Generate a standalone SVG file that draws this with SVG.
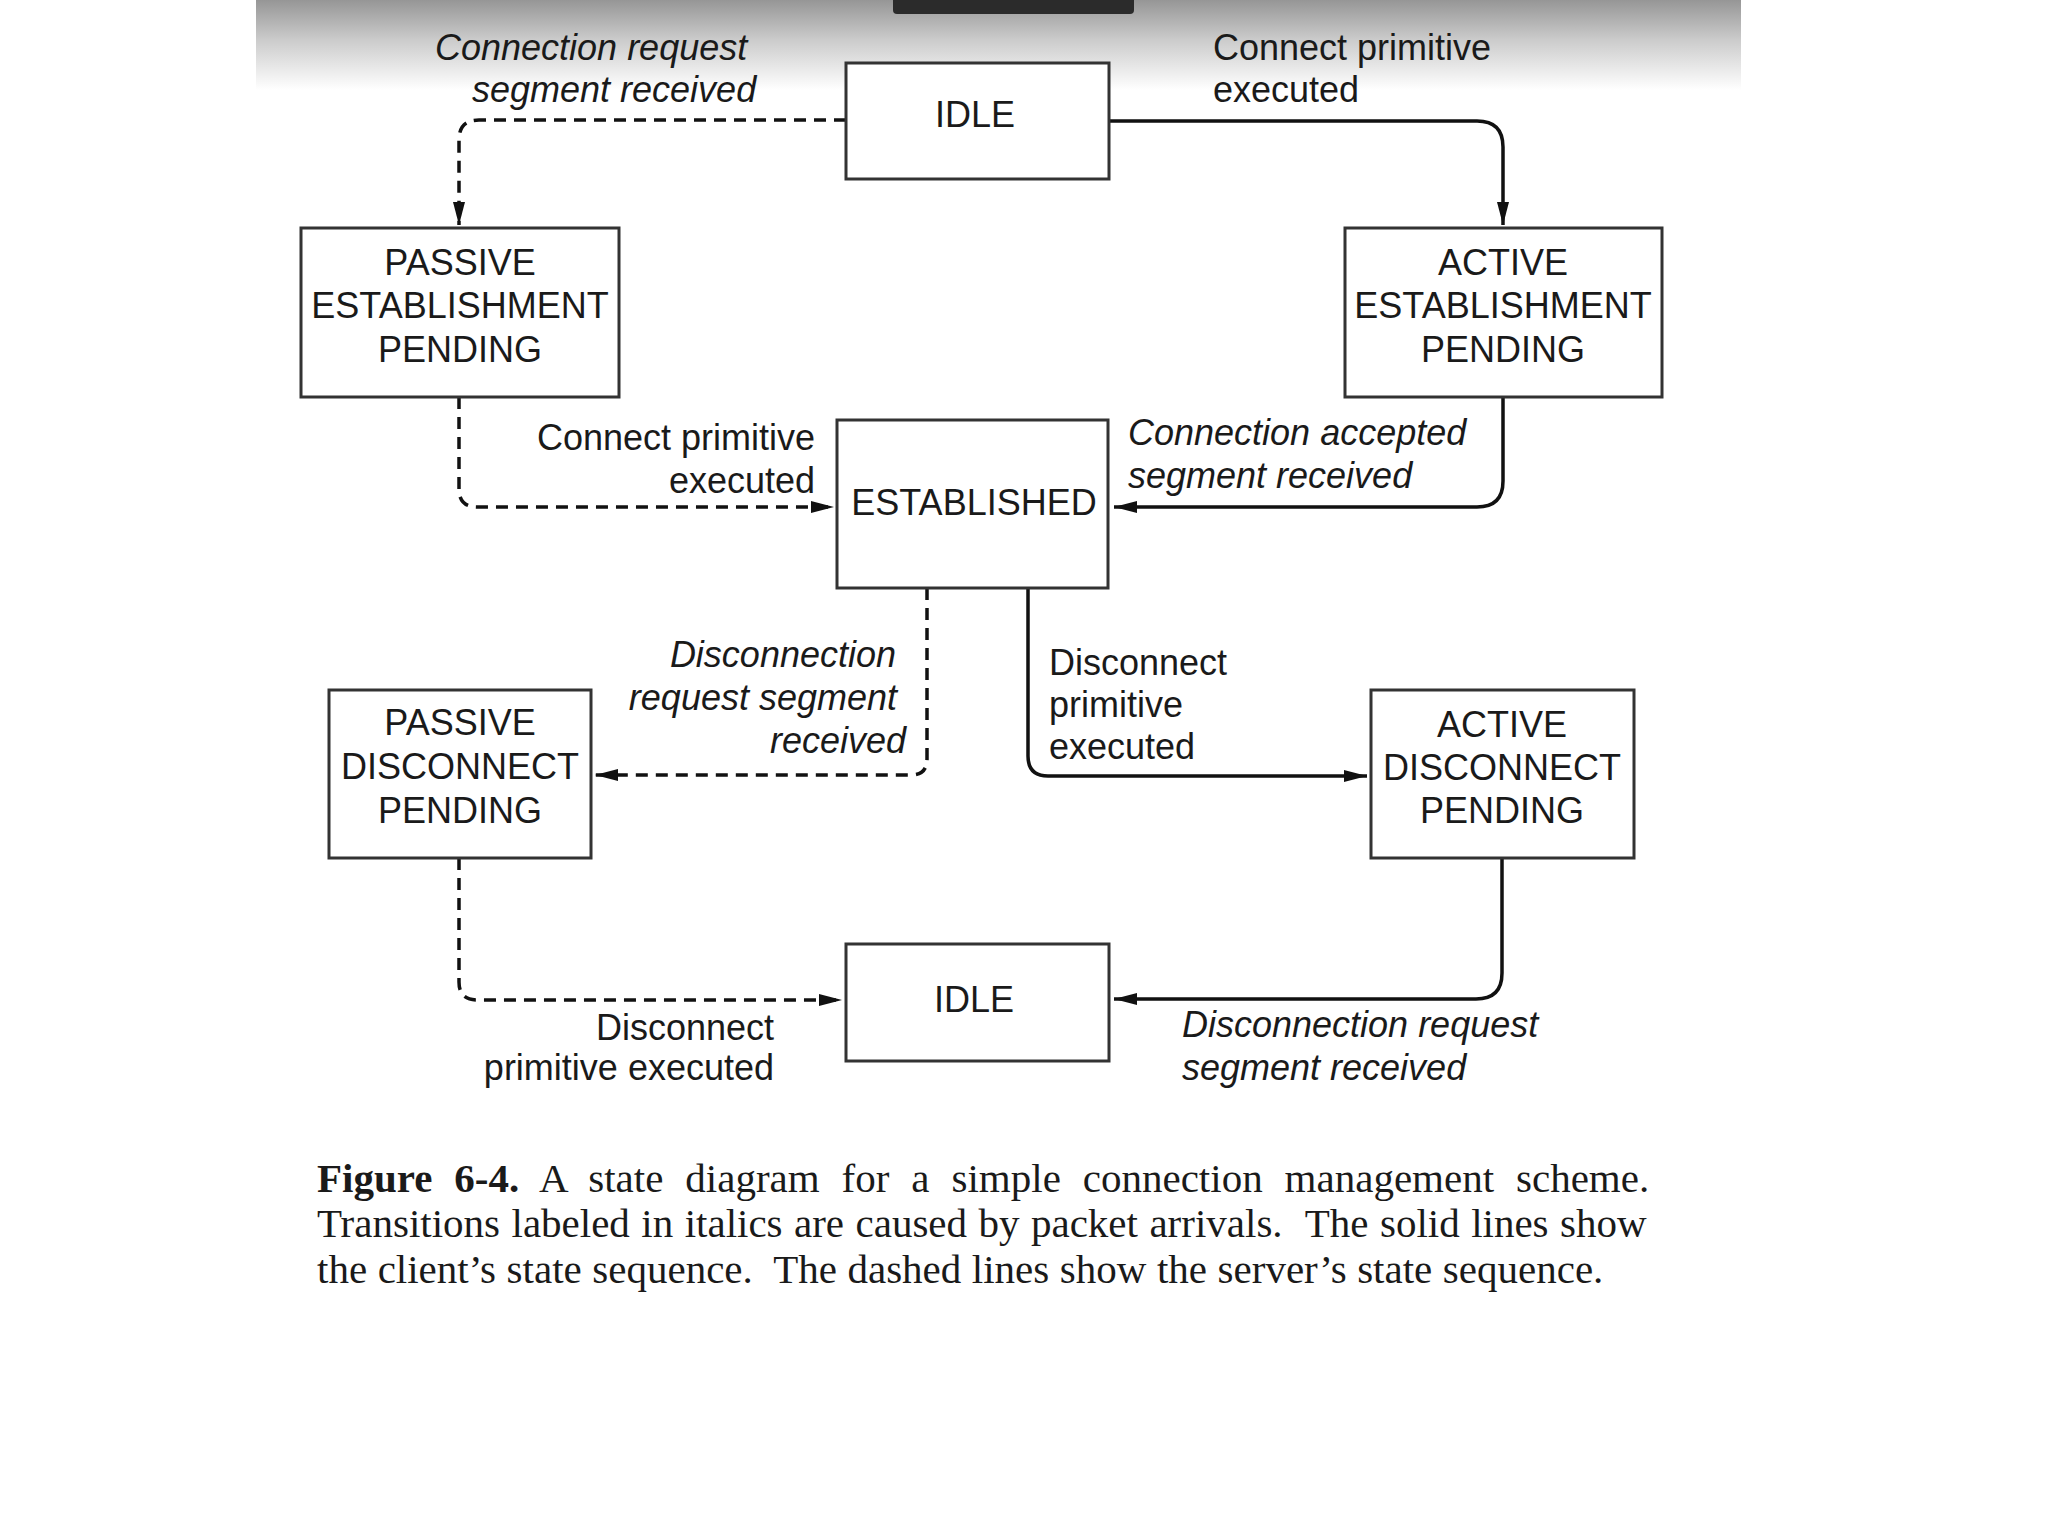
<svg xmlns="http://www.w3.org/2000/svg" width="2048" height="1536" viewBox="0 0 2048 1536">
<defs>
<linearGradient id="hdr" x1="0" y1="0" x2="0" y2="1">
<stop offset="0" stop-color="#969696"/>
<stop offset="0.45" stop-color="#cccccc"/>
<stop offset="1" stop-color="#ffffff"/>
</linearGradient>
<marker id="arr" markerUnits="userSpaceOnUse" markerWidth="26" markerHeight="14" refX="23" refY="7" orient="auto">
<path d="M0,1 L23,7 L0,13 Z" fill="#111"/>
</marker>
</defs>
<style>
.box{fill:#fff;stroke:#333;stroke-width:3}
.nt{font-family:"Liberation Sans",Arial,sans-serif;font-size:36px;fill:#1a1a1a;text-anchor:middle}
.lb{font-family:"Liberation Sans",Arial,sans-serif;font-size:36px;fill:#1a1a1a}
.it{font-style:italic}
.e{text-anchor:end}
.solid{fill:none;stroke:#111;stroke-width:3.5;marker-end:url(#arr)}
.dash{fill:none;stroke:#111;stroke-width:3.5;stroke-dasharray:12 8;marker-end:url(#arr)}
.cap{font-family:"Liberation Serif","Times New Roman",serif;font-size:41px;fill:#1a1a1a;white-space:pre}
</style>
<rect width="2048" height="1536" fill="#fff"/>
<rect x="256" y="0" width="1485" height="90" fill="url(#hdr)"/>
<path d="M893,0 H1134 V10 Q1134,14 1130,14 H897 Q893,14 893,10 Z" fill="#2b2b2b"/>

<g id="connectors">
<path class="dash" d="M846,120 H479 Q459,120 459,140 V225"/>
<path class="solid" d="M1109,121 H1477 Q1503,121 1503,147 V225"/>
<path class="dash" d="M459,397 V489 Q459,507 477,507 H834"/>
<path class="solid" d="M1503,397 V481 Q1503,507 1477,507 H1114"/>
<path class="dash" d="M927,588 V759 Q927,775 911,775 H595"/>
<path class="solid" d="M1028,588 V756 Q1028,776 1048,776 H1367"/>
<path class="dash" d="M459,858 V982 Q459,1000 477,1000 H842"/>
<path class="solid" d="M1502,858 V973 Q1502,999 1476,999 H1114"/>
</g>

<g id="idle-top">
<rect class="box" x="846" y="63" width="263" height="116"/>
<text class="nt" x="975" y="127">IDLE</text>
</g>
<g id="passive-est">
<rect class="box" x="301" y="228" width="318" height="169"/>
<text class="nt" x="460" y="275">PASSIVE</text>
<text class="nt" x="460" y="318">ESTABLISHMENT</text>
<text class="nt" x="460" y="362">PENDING</text>
</g>
<g id="active-est">
<rect class="box" x="1345" y="228" width="317" height="169"/>
<text class="nt" x="1503" y="275">ACTIVE</text>
<text class="nt" x="1503" y="318">ESTABLISHMENT</text>
<text class="nt" x="1503" y="362">PENDING</text>
</g>
<g id="established">
<rect class="box" x="837" y="420" width="271" height="168"/>
<text class="nt" x="974" y="515">ESTABLISHED</text>
</g>
<g id="passive-disc">
<rect class="box" x="329" y="690" width="262" height="168"/>
<text class="nt" x="460" y="735">PASSIVE</text>
<text class="nt" x="460" y="779">DISCONNECT</text>
<text class="nt" x="460" y="823">PENDING</text>
</g>
<g id="active-disc">
<rect class="box" x="1371" y="690" width="263" height="168"/>
<text class="nt" x="1502" y="737">ACTIVE</text>
<text class="nt" x="1502" y="780">DISCONNECT</text>
<text class="nt" x="1502" y="823">PENDING</text>
</g>
<g id="idle-bottom">
<rect class="box" x="846" y="944" width="263" height="117"/>
<text class="nt" x="974" y="1012">IDLE</text>
</g>

<g id="labels">
<text class="lb it" x="435" y="60">Connection request</text>
<text class="lb it" x="472" y="102">segment received</text>
<text class="lb" x="1213" y="60">Connect primitive</text>
<text class="lb" x="1213" y="102">executed</text>
<text class="lb e" x="815" y="450">Connect primitive</text>
<text class="lb e" x="815" y="493">executed</text>
<text class="lb it" x="1128" y="445">Connection accepted</text>
<text class="lb it" x="1128" y="488">segment received</text>
<text class="lb it e" x="896" y="667">Disconnection</text>
<text class="lb it e" x="897" y="710">request segment</text>
<text class="lb it e" x="906" y="753">received</text>
<text class="lb" x="1049" y="675">Disconnect</text>
<text class="lb" x="1049" y="717">primitive</text>
<text class="lb" x="1049" y="759">executed</text>
<text class="lb e" x="774" y="1040">Disconnect</text>
<text class="lb e" x="774" y="1080">primitive executed</text>
<text class="lb it" x="1182" y="1037">Disconnection request</text>
<text class="lb it" x="1182" y="1080">segment received</text>
</g>

<g id="caption">
<text class="cap" x="317" y="1192" word-spacing="11.7"><tspan font-weight="bold">Figure 6-4.</tspan> A state diagram for a simple connection management scheme.</text>
<text class="cap" x="317" y="1237" word-spacing="1.2">Transitions labeled in italics are caused by packet arrivals.  The solid lines show</text>
<text class="cap" x="317" y="1283" word-spacing="0.3">the client’s state sequence.  The dashed lines show the server’s state sequence.</text>
</g>
</svg>
